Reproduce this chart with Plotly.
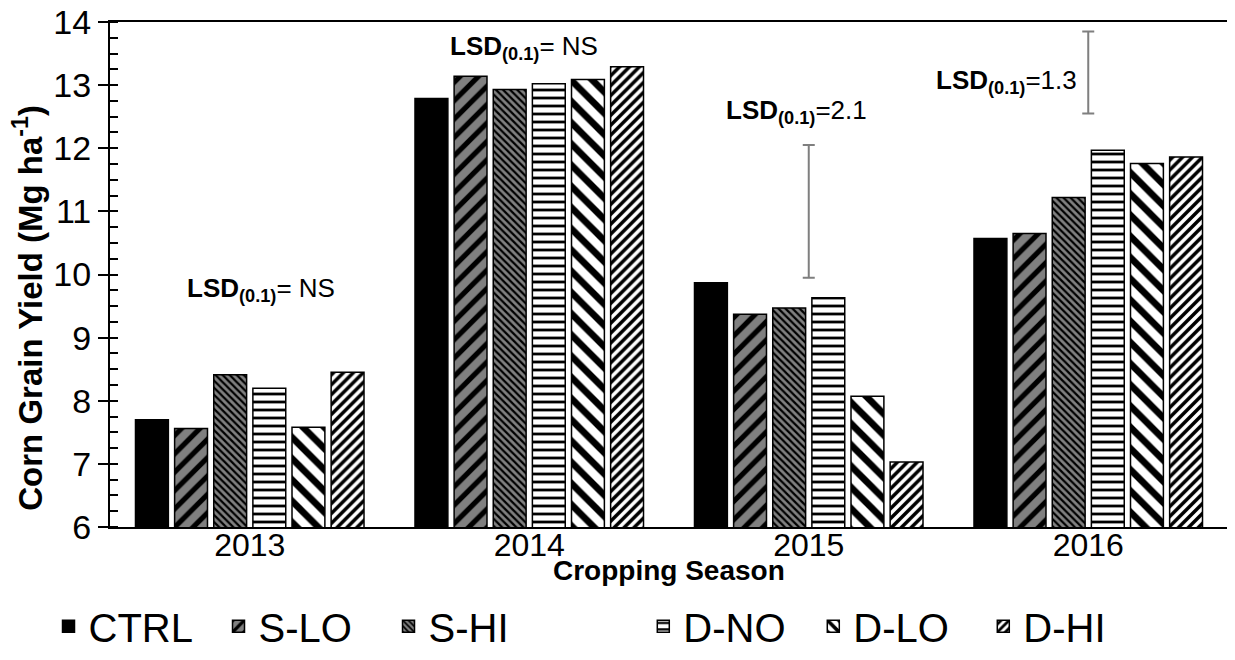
import plotly.graph_objects as go

seasons = ["2013", "2014", "2015", "2016"]
treatments = ["CTRL", "S-LO", "S-HI", "D-NO", "D-LO", "D-HI"]
ctrl = [7.70, 12.79, 9.87, 10.57]
s_lo = [7.56, 13.14, 9.37, 10.65]
s_hi = [8.41, 12.93, 9.47, 11.22]
d_no = [8.20, 13.02, 9.63, 11.97]
d_lo = [7.58, 13.09, 8.07, 11.76]
d_hi = [8.45, 13.29, 7.03, 11.86]
series = [ctrl, s_lo, s_hi, d_no, d_lo, d_hi]

lsd_seasons = ["2015", "2016"]
lsd_values = [2.1, 1.3]
lsd_centers = [11.0, 13.2]
lsd_labels = ["NS", "NS", "2.1", "1.3"]

styles = [
    dict(color="black", pattern=dict(shape="")),
    dict(color="#808080", pattern=dict(shape="/", bgcolor="#808080", fgcolor="black", fgopacity=1, size=13, solidity=0.4)),
    dict(color="#808080", pattern=dict(shape="\\", bgcolor="#808080", fgcolor="black", fgopacity=1, size=5, solidity=0.45)),
    dict(color="white", pattern=dict(shape="-", bgcolor="white", fgcolor="black", fgopacity=1, size=8, solidity=0.35)),
    dict(color="white", pattern=dict(shape="\\", bgcolor="white", fgcolor="black", fgopacity=1, size=15, solidity=0.45)),
    dict(color="white", pattern=dict(shape="/", bgcolor="white", fgcolor="black", fgopacity=1, size=7, solidity=0.5)),
]

FONT = "Liberation Sans, Arial, sans-serif"
fig = go.Figure()
for i, (name, vals, st) in enumerate(zip(treatments, series, styles)):
    fig.add_trace(go.Bar(
        x=seasons, y=vals, name=name,
        marker=dict(color=st["color"], pattern=st["pattern"], line=dict(color="black", width=1.5)),
        legend="legend" if i < 3 else "legend2",
    ))

fig.add_trace(go.Scatter(
    x=lsd_seasons, y=lsd_centers, mode="markers",
    marker=dict(size=1, color="rgba(0,0,0,0)"),
    error_y=dict(type="data", array=[v / 2 for v in lsd_values], color="#7f7f7f", thickness=2, width=6),
    showlegend=False, hoverinfo="skip",
))

ann_pos = [(0.04, 9.76), (0.98, 13.6), (1.957, 12.58), (2.707, 13.06)]
for (ax, ay), lab in zip(ann_pos, lsd_labels):
    sep = "= " if lab == "NS" else "="
    fig.add_annotation(
        x=ax, y=ay, xref="x", yref="y", showarrow=False,
        text=f"<b>LSD<sub>(0.1)</sub></b>{sep}{lab}",
        font=dict(family=FONT, size=26, color="black"),
        xanchor="center", yanchor="middle",
    )

fig.add_annotation(
    x=-0.073, y=0.435, xref="paper", yref="paper", showarrow=False,
    text="<b>Corn Grain Yield (Mg ha<sup>-1</sup>)</b>", textangle=-90,
    font=dict(family=FONT, size=33, color="black"), xanchor="center", yanchor="middle",
)
fig.add_annotation(
    x=0.5, y=-0.087, xref="paper", yref="paper", showarrow=False,
    text="<b>Cropping Season</b>",
    font=dict(family=FONT, size=28, color="black"), xanchor="center", yanchor="middle",
)

fig.update_layout(
    width=1227, height=652,
    margin=dict(l=102, r=7, t=14, b=133, autoexpand=False),
    paper_bgcolor="white", plot_bgcolor="white",
    font=dict(family=FONT, color="black"),
    barmode="group", bargap=0.16, bargroupgap=0.16,
    legend=dict(orientation="h", x=-0.055, xanchor="left", y=-0.132, yanchor="top",
                font=dict(size=40, family=FONT), entrywidth=125, traceorder="normal"),
    legend2=dict(orientation="h", x=0.477, xanchor="left", y=-0.132, yanchor="top",
                 font=dict(size=40, family=FONT), entrywidth=125, traceorder="normal"),
    xaxis=dict(
        showline=True, linecolor="black", linewidth=2, mirror=True, ticks="", automargin=False,
        tickfont=dict(size=32, family=FONT), ticklabelstandoff=-11, ticklabeloverflow="allow",
    ),
    yaxis=dict(
        range=[6, 14], dtick=1, showline=True, linecolor="black", linewidth=2, mirror=True,
        ticks="outside", ticklen=10, tickwidth=1.5, tickcolor="black", automargin=False,
        ticklabeloverflow="allow",
        minor=dict(dtick=0.25, ticks="inside", ticklen=8, tickwidth=1.5, tickcolor="black", showgrid=False),
        showgrid=False, zeroline=False,
        tickfont=dict(size=34, family=FONT),
    ),
)

fig.write_html("out.html")
